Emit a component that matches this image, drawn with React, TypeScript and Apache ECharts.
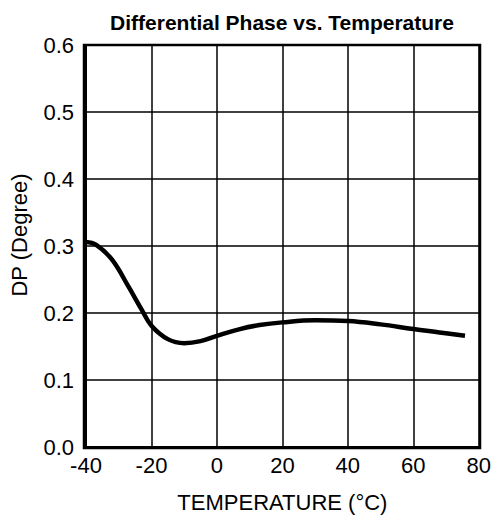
import React, { useEffect, useRef } from "react";
import * as echarts from "echarts";

const temps = [-40, -37, -32.1, -27.1, -23, -20, -15, -10, -5, 0, 7, 13, 20, 30, 40, 50, 60, 68, 75.8];
const dp = [0.306, 0.302, 0.28, 0.24, 0.205, 0.181, 0.161, 0.155, 0.158, 0.166, 0.176, 0.182, 0.186, 0.189, 0.188, 0.183, 0.176, 0.171, 0.166];
const title = "Differential Phase vs. Temperature";
const xName = "TEMPERATURE (°C)";
const yName = "DP (Degree)";

export default function App() {
  const ref = useRef<HTMLDivElement>(null);
  useEffect(() => {
    const chart = echarts.init(ref.current!, null, { renderer: "svg" });
    const font = "Liberation Sans, Arial, sans-serif";
    chart.setOption({
      animation: false,
      backgroundColor: "#fff",
      title: {
        text: title,
        left: 277,
        top: 7,
        textAlign: "center",
        textStyle: { fontFamily: font, fontSize: 21, fontWeight: "bold", color: "#000" },
      },
      grid: { left: 84, right: 14, top: 45, bottom: 70, containLabel: false },
      xAxis: {
        type: "value",
        min: -40,
        max: 80,
        interval: 20,
        name: xName,
        nameLocation: "middle",
        nameGap: 44,
        nameTextStyle: { fontFamily: font, fontSize: 22, color: "#000" },
        axisLine: { show: true, onZero: false, lineStyle: { color: "#000", width: 2 } },
        axisTick: { show: false },
        axisLabel: { fontFamily: font, fontSize: 22, color: "#000", margin: 7 },
        splitLine: { show: true, lineStyle: { color: "#000", width: 1.5 } },
      },
      yAxis: {
        type: "value",
        min: 0,
        max: 0.6,
        interval: 0.1,
        name: yName,
        nameLocation: "middle",
        nameGap: 56,
        nameTextStyle: { fontFamily: font, fontSize: 22, color: "#000", padding: [0, 0, 0, 22] },
        axisLine: { show: true, onZero: false, lineStyle: { color: "#000", width: 2 } },
        axisTick: { show: false },
        axisLabel: { fontFamily: font, fontSize: 22, color: "#000", margin: 12, formatter: (v: number) => v.toFixed(1) },
        splitLine: { show: true, lineStyle: { color: "#000", width: 1.5 } },
      },
      series: [
        {
          type: "line",
          data: temps.map((t, i) => [t, dp[i]]),
          smooth: 0.4,
          showSymbol: false,
          lineStyle: { color: "#000", width: 4.5 },
        },
      ],
      graphic: [
        {
          type: "rect",
          shape: { x: 84, y: 45, width: 396, height: 403 },
          style: { fill: "none", stroke: "#000", lineWidth: 2.5 },
          silent: true,
        },
      ],
    });
    return () => chart.dispose();
  }, []);
  return <div ref={ref} style={{ width: 494, height: 518, position: "fixed", left: 0, top: 0 }} />;
}
